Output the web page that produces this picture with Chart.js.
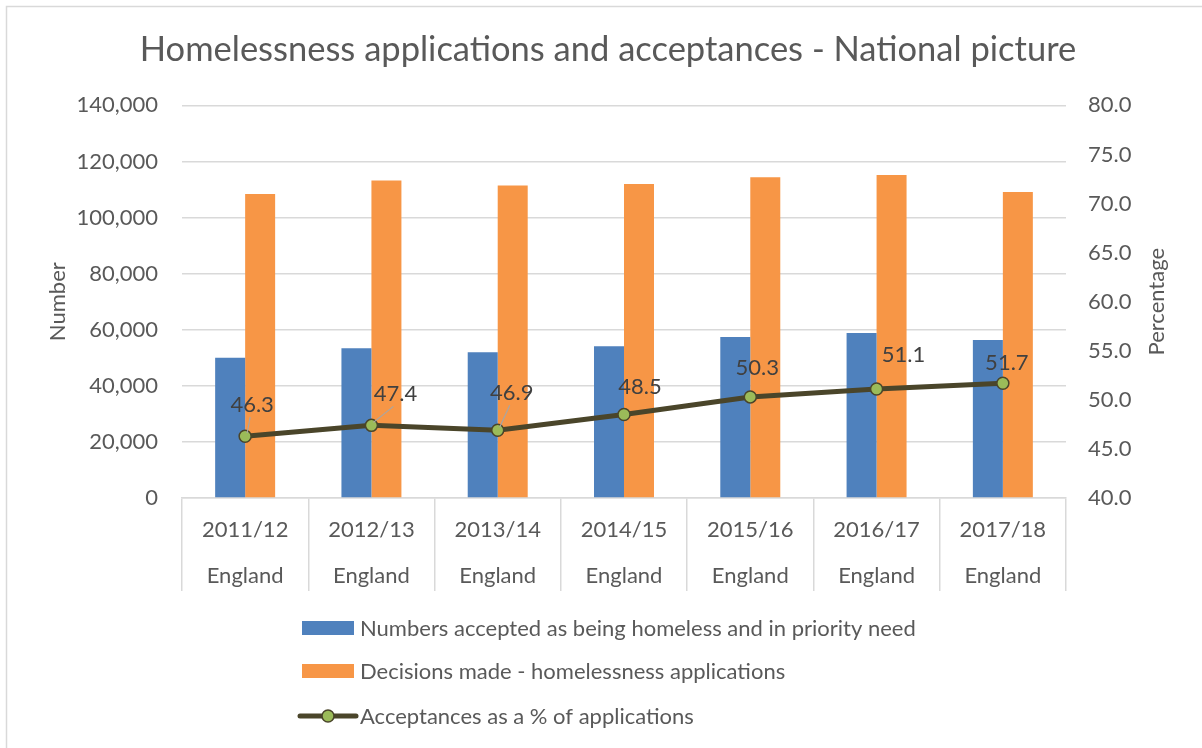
<!DOCTYPE html>
<html>
<head>
<meta charset="utf-8">
<script src="https://cdn.jsdelivr.net/npm/chart.js@4.4.1/dist/chart.umd.min.js"></script>
<style>
  html, body { margin: 0; padding: 0; background: #ffffff; }
  #wrap { position: relative; width: 1202px; height: 748px; }
  canvas { display: block; }
</style>
</head>
<body>
<div id="wrap"><canvas id="c" width="1202" height="748"></canvas></div>
<script>
// ---- Data ----
const years = ['2011/12', '2012/13', '2013/14', '2014/15', '2015/16', '2016/17', '2017/18'];
const region = 'England';
const accepted = [50000, 53400, 52000, 54100, 57400, 58800, 56300];
const decisions = [108400, 113200, 111400, 112000, 114400, 115200, 109100];
const acceptancePct = [46.3, 47.4, 46.9, 48.5, 50.3, 51.1, 51.7];
const leftTicks = [0, 20000, 40000, 60000, 80000, 100000, 120000, 140000];
const rightTicks = [40, 45, 50, 55, 60, 65, 70, 75, 80];

const seriesNames = [
  'Numbers accepted as being homeless and in priority need',
  'Decisions made - homelessness applications',
  'Acceptances as a % of applications'
];
const rightTitle = 'Percentage';

const FONT = 'Lato, "Open Sans", sans-serif';
const TXT = '#595959';
const GRID = '#d9d9d9';
const FS = 22;

// label offsets (style only): [dx, dy, leader]
const labelOffsets = [[7, -31, true], [24, -31, true], [14, -37, true], [16, -28, false], [7, -29, false], [27, -34, false], [4, -20, false]];

const bgPlugin = {
  id: 'bg',
  beforeDraw(chart) {
    const ctx = chart.ctx;
    ctx.save();
    ctx.fillStyle = '#ffffff';
    ctx.fillRect(0, 0, chart.width, chart.height);
    ctx.strokeStyle = GRID;
    ctx.lineWidth = 1.5;
    ctx.strokeRect(6.5, 6.5, chart.width + 50, chart.height + 50);
    ctx.restore();
  },
  afterDraw(chart) {
    const ctx = chart.ctx;
    const s = chart.scales.y1;
    ctx.save();
    ctx.font = FS + 'px ' + FONT;
    ctx.fillStyle = TXT;
    ctx.textAlign = 'center';
    ctx.textBaseline = 'middle';
    ctx.translate(s.right - 14, (s.top + s.bottom) / 2);
    ctx.rotate(-Math.PI / 2);
    ctx.fillText(rightTitle, 0, 0);
    ctx.restore();
  }
};

const dataLabelPlugin = {
  id: 'pctLabels',
  afterDatasetsDraw(chart) {
    const ctx = chart.ctx;
    const idx = 2;
    const meta = chart.getDatasetMeta(idx);
    const data = chart.data.datasets[idx].data;
    ctx.save();
    ctx.font = FS + 'px ' + FONT;
    ctx.fillStyle = '#404040';
    ctx.textAlign = 'center';
    ctx.textBaseline = 'middle';
    meta.data.forEach((pt, i) => {
      const off = labelOffsets[i];
      const lx = pt.x + off[0], ly = pt.y + off[1];
      if (off[2]) {
        ctx.strokeStyle = '#a6a6a6';
        ctx.lineWidth = 1.2;
        ctx.beginPath();
        ctx.moveTo(pt.x + 2, pt.y - 3);
        ctx.lineTo(lx - 2, ly + 12);
        ctx.stroke();
      }
      ctx.fillText(data[i].toFixed(1), lx, ly);
    });
    ctx.restore();
  }
};

const legendPlugin = {
  id: 'vlegend',
  afterDraw(chart) {
    const ctx = chart.ctx;
    ctx.save();
    ctx.font = FS + 'px ' + FONT;
    const ds = chart.data.datasets;
    let maxW = 0;
    ds.forEach(d => { maxW = Math.max(maxW, ctx.measureText(d.label).width); });
    const boxW = 52, gap = 6;
    const blockW = boxW + gap + maxW;
    const left = Math.round(chart.width / 2 + 8 - blockW / 2);
    const rows = [628, 671, 716];
    ctx.textAlign = 'left';
    ctx.textBaseline = 'middle';
    ds.forEach((d, i) => {
      const y = rows[i];
      if (d.type === 'line') {
        ctx.strokeStyle = d.borderColor;
        ctx.lineWidth = 5;
        ctx.lineCap = 'round';
        ctx.beginPath();
        ctx.moveTo(left - 2, y);
        ctx.lineTo(left + boxW + 2, y);
        ctx.stroke();
        ctx.beginPath();
        ctx.arc(left + boxW / 2, y, 6, 0, Math.PI * 2);
        ctx.fillStyle = d.pointBackgroundColor;
        ctx.fill();
        ctx.lineWidth = 1.5;
        ctx.strokeStyle = d.pointBorderColor;
        ctx.stroke();
      } else {
        ctx.fillStyle = d.backgroundColor;
        ctx.fillRect(left, y - 7, boxW, 14);
      }
      ctx.fillStyle = TXT;
      ctx.fillText(d.label, left + boxW + gap, y + 1);
    });
    ctx.restore();
  }
};

new Chart(document.getElementById('c'), {
  data: {
    labels: years.map(y => [y, region]),
    datasets: [
      {
        type: 'bar', label: seriesNames[0], data: accepted, yAxisID: 'y',
        backgroundColor: '#4f81bd', barPercentage: 1.0, categoryPercentage: 0.475, order: 2
      },
      {
        type: 'bar', label: seriesNames[1], data: decisions, yAxisID: 'y',
        backgroundColor: '#f79646', barPercentage: 1.0, categoryPercentage: 0.475, order: 2
      },
      {
        type: 'line', label: seriesNames[2], data: acceptancePct, yAxisID: 'y1',
        borderColor: '#4a452a', borderWidth: 5, pointRadius: 6, pointHoverRadius: 6,
        pointBackgroundColor: '#9bbb59', pointBorderColor: '#4a452a', pointBorderWidth: 1.5,
        tension: 0, fill: false, order: 0
      }
    ]
  },
  options: {
    responsive: false,
    animation: false,
    layout: { padding: { left: 45, right: 31, top: 0, bottom: 149 } },
    plugins: {
      legend: { display: false },
      tooltip: { enabled: false },
      title: {
        display: true,
        text: 'Homelessness applications and acceptances - National picture',
        color: TXT,
        font: { family: FONT, size: 34.5, weight: 'normal', lineHeight: 1.2 },
        padding: { top: 29, bottom: 35 }
      }
    },
    scales: {
      x: {
        type: 'category',
        offset: true,
        grid: { display: true, drawOnChartArea: false, drawTicks: true, tickLength: 93, offset: true, color: GRID, lineWidth: 1.5 },
        border: { display: true, color: GRID, width: 1.5 },
        ticks: { color: TXT, font: { family: FONT, size: FS, lineHeight: 46 / FS }, padding: -84, maxRotation: 0, autoSkip: false },
        afterFit(scale) { scale.height = 101; }
      },
      y: {
        type: 'linear', position: 'left', min: 0, max: 140000,
        afterBuildTicks(scale) { scale.ticks = leftTicks.map(v => ({ value: v })); },
        grid: { color: GRID, lineWidth: 1.5, drawTicks: false },
        border: { display: false },
        ticks: {
          color: TXT, font: { family: FONT, size: FS }, padding: 24,
          callback: v => v.toLocaleString('en-GB')
        },
        title: { display: true, text: 'Number', color: TXT, font: { family: FONT, size: FS }, padding: 0 },
        afterFit(scale) { scale.width = 182 - 45; }
      },
      y1: {
        type: 'linear', position: 'right', min: 40, max: 80,
        afterBuildTicks(scale) { scale.ticks = rightTicks.map(v => ({ value: v })); },
        grid: { drawOnChartArea: false, drawTicks: false },
        border: { display: false },
        ticks: {
          color: TXT, font: { family: FONT, size: FS }, padding: 22,
          callback: v => Number(v).toFixed(1)
        },
        title: { display: false },
        afterFit(scale) { scale.width = 1171 - 1066; }
      }
    }
  },
  plugins: [bgPlugin, dataLabelPlugin, legendPlugin]
});
</script>
</body>
</html>
